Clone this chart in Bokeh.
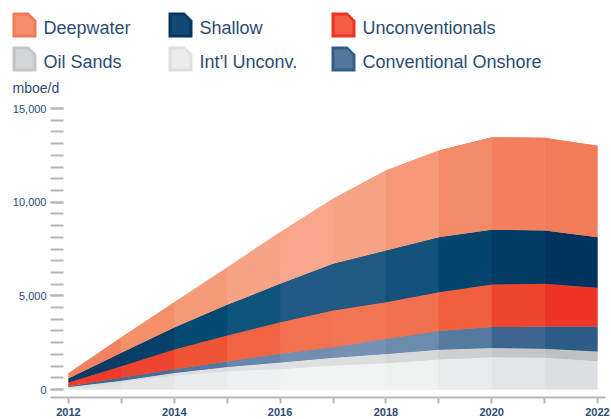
import numpy as np
from bokeh.plotting import figure
from bokeh.models import (Range1d, FixedTicker, NumeralTickFormatter, ColumnDataSource,
                          LinearAxis)
from bokeh.core.properties import value
from bokeh.embed import file_html
from bokeh.resources import INLINE

# ---------------- data (mboe/d) ----------------
years = [2012, 2013, 2014, 2015, 2016, 2017, 2018, 2019, 2020, 2021, 2022]
intl_unconv = [100, 400, 730, 960, 1100, 1280, 1400, 1600, 1720, 1690, 1510]
oil_sands = [30, 70, 150, 240, 340, 410, 500, 520, 490, 480, 520]
conv_onshore = [45, 160, 200, 300, 470, 570, 800, 1000, 1120, 1190, 1330]
unconventionals = [200, 615, 1055, 1380, 1685, 1960, 1960, 2075, 2275, 2280, 2070]
shallow = [210, 715, 1175, 1640, 2045, 2490, 2760, 2935, 2920, 2850, 2700]
deepwater = [285, 830, 1350, 1990, 2760, 3470, 4270, 4630, 4945, 4950, 4880]

series_keys = ["intl", "oil", "conv", "unconv", "shallow", "deep"]
series_values = [intl_unconv, oil_sands, conv_onshore, unconventionals, shallow, deepwater]

y_ticks = [0, 5000, 10000, 15000]
y_minor_step = 625
x_ticks = [2012, 2014, 2016, 2018, 2020, 2022]
x_minor_ticks = [2013, 2015, 2017, 2019, 2021]

legend_keys = ["deep", "shallow", "unconv", "oil", "intl", "conv"]
legend_labels = ["Deepwater", "Shallow", "Unconventionals",
                 "Oil Sands", "Int\u2019l Unconv.", "Conventional Onshore"]
unit_label = "mboe/d"

# ---------------- styles ----------------
FONT = "Liberation Sans"
TEXT_COLOR = "#2b4c74"
TICK_COLOR = "#b7b7b7"

base_colors = {
    "intl": "#eaebec", "oil": "#d6d7d9", "conv": "#5a7ea4",
    "unconv": "#f05a3c", "shallow": "#0c4a72", "deep": "#f59878",
}
grad = {
    "intl": ["#dcdddf", "#e2e3e5", "#e8e9eb", "#eeeff0", "#f1f2f3", "#f3f4f4",
             "#f2f3f3", "#eeeff0", "#e7e8e9", "#e1e2e4", "#dcdde0"],
    "oil": ["#d4d5d7", "#d8d9db", "#dcdddf", "#dfe0e2", "#e0e1e3", "#dfe0e2",
            "#dbdcde", "#d3d4d6", "#c9cacc", "#c2c3c5", "#bdbec0"],
    "conv": ["#3c6a94", "#3e6b95", "#4a7099", "#5d80a6", "#6f8cb0", "#7591b3",
             "#7692b3", "#6284a8", "#4a6f96", "#2f5e88", "#2a5b86"],
    "unconv": ["#ee3b2a", "#ee3e2c", "#ef4b32", "#f05d3d", "#f26d4b", "#f27652",
               "#f27552", "#f16b48", "#ef5335", "#ec3828", "#ec3325"],
    "shallow": ["#0f3862", "#0b3d66", "#05426c", "#035078", "#1a5680", "#275d86",
                "#1d5680", "#064c74", "#033f68", "#00365f", "#00335d"],
    "deep": ["#f07a58", "#f38a66", "#f5966f", "#f6a080", "#f7a98a", "#f7a88a",
             "#f6a081", "#f49270", "#f38562", "#f27c5a", "#f27a57"],
}
icon_edge = {"deep": "#f17a56", "shallow": "#06365f", "unconv": "#ec3426",
             "oil": "#c4c5c7", "intl": "#dfe0e2", "conv": "#335d88"}
icon_mid = {"deep": "#f59576", "shallow": "#13507b", "unconv": "#f2664a",
            "oil": "#d6d7d9", "intl": "#eeeff0", "conv": "#5f80a5"}


def mix(c1, c2):
    a = [int(c1[i:i + 2], 16) for i in (1, 3, 5)]
    b = [int(c2[i:i + 2], 16) for i in (1, 3, 5)]
    return "#%02x%02x%02x" % tuple((x + y) // 2 for x, y in zip(a, b))


# ---------------- geometry (px) ----------------
W_PX, H_PX = 610, 418
RIGHT, BOTTOM = 5, 21
FRAME_BOTTOM = H_PX - BOTTOM          # x-axis line
PX_2012, PX_PER_YEAR = 68, 52.9
PX_ZERO, PX_PER_UNIT = 389, 281.0 / 15000
AXIS_LEFT_PX = 50


def dx(px):
    return 2012 + (px - PX_2012) / PX_PER_YEAR


def dy(py):
    return (PX_ZERO - py) / PX_PER_UNIT


p = figure(width=W_PX, height=H_PX,
           x_range=Range1d(dx(0), dx(W_PX - RIGHT)),
           y_range=Range1d(dy(FRAME_BOTTOM), dy(0)),
           output_backend="svg", toolbar_location=None, y_axis_location=None,
           min_border_left=0, min_border_right=RIGHT,
           min_border_top=0, min_border_bottom=BOTTOM)
p.grid.visible = False
p.outline_line_color = None
p.background_fill_color = "white"
p.border_fill_color = "white"

data = {"year": years}
for k, v in zip(series_keys, series_values):
    data[k] = v
source = ColumnDataSource(data)
p.varea_stack(stackers=series_keys, x="year", source=source,
              color=[base_colors[k] for k in series_keys])

arr = np.array(series_values, dtype=float)
tops = np.cumsum(arr, axis=0)
bottoms = tops - arr
for i, k in enumerate(series_keys):
    for j in range(len(years) - 1):
        p.varea(x=years[j:j + 2], y1=list(bottoms[i, j:j + 2]), y2=list(tops[i, j:j + 2]),
                fill_color=mix(grad[k][j], grad[k][j + 1]))

# y axis, fixed inside the frame
yax = LinearAxis(fixed_location=dx(AXIS_LEFT_PX))
yax.ticker = FixedTicker(ticks=y_ticks,
                         minor_ticks=list(range(0, y_ticks[-1] + 1, y_minor_step)))
yax.formatter = NumeralTickFormatter(format="0,0")
yax.axis_line_color = None
yax.major_tick_in = 13
yax.major_tick_out = 0
yax.minor_tick_in = 13
yax.minor_tick_out = 0
yax.major_tick_line_color = TICK_COLOR
yax.minor_tick_line_color = TICK_COLOR
yax.major_tick_line_width = 2
yax.minor_tick_line_width = 2
yax.major_label_standoff = 4
yax.major_label_text_font = FONT
yax.major_label_text_font_size = "11px"
yax.major_label_text_color = TEXT_COLOR
p.add_layout(yax, "left")

# x axis
p.xaxis.ticker = FixedTicker(ticks=x_ticks, minor_ticks=x_minor_ticks)
p.xaxis.bounds = (dx(AXIS_LEFT_PX), dx(W_PX - RIGHT))
p.xaxis.axis_line_color = TICK_COLOR
p.xaxis.axis_line_width = 2
p.xaxis.major_tick_in = 0
p.xaxis.major_tick_out = 6
p.xaxis.minor_tick_in = 0
p.xaxis.minor_tick_out = 6
p.xaxis.major_tick_line_color = TICK_COLOR
p.xaxis.minor_tick_line_color = TICK_COLOR
p.xaxis.major_tick_line_width = 2
p.xaxis.minor_tick_line_width = 2
p.xaxis.major_label_standoff = 4
p.xaxis.major_label_text_font = FONT
p.xaxis.major_label_text_font_size = "11px"
p.xaxis.major_label_text_font_style = "bold"
p.xaxis.major_label_text_color = TEXT_COLOR

# ---------------- legend ----------------
col_x = [12, 168, 331]
row_y = [12, 46]
IW, IH, CUT = 24, 25, 8
for n, (k, lab) in enumerate(zip(legend_keys, legend_labels)):
    x0 = col_x[n % 3]
    y0 = row_y[n // 3]
    outer_x = [x0, x0 + IW - CUT, x0 + IW, x0 + IW, x0]
    outer_y = [y0, y0, y0 + CUT, y0 + IH, y0 + IH]
    inner_x = [x0 + 3, x0 + IW - CUT, x0 + IW - 3, x0 + IW - 3, x0 + 3]
    inner_y = [y0 + 3, y0 + 3, y0 + CUT + 1, y0 + IH - 3, y0 + IH - 3]
    p.patch([dx(v) for v in outer_x], [dy(v) for v in outer_y],
            fill_color=icon_edge[k], line_color=None)
    p.patch([dx(v) for v in inner_x], [dy(v) for v in inner_y],
            fill_color=icon_mid[k], fill_alpha=0.8, line_color=None)
    p.text(x=[dx(x0 + 31)], y=[dy(y0 + 15)], text=[lab], text_font=value(FONT),
           text_font_size="18px", text_color=TEXT_COLOR,
           text_baseline="middle", text_align="left")

p.text(x=[dx(12)], y=[dy(87)], text=[unit_label], text_font=value(FONT),
       text_font_size="14px", text_color=TEXT_COLOR,
       text_baseline="middle", text_align="left")

open("out.html", "w").write(file_html(p, INLINE))
